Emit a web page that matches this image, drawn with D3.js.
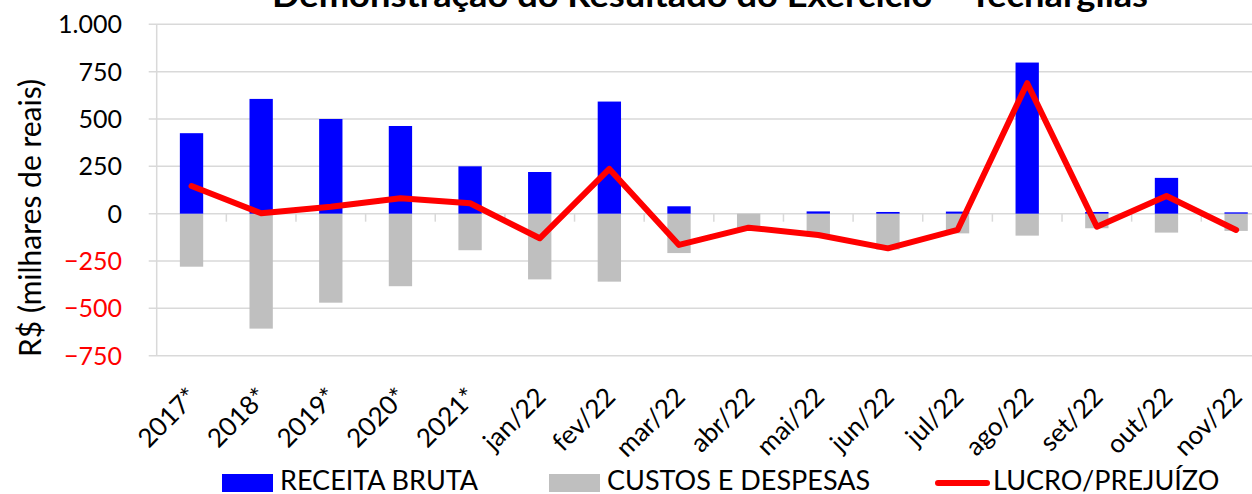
<!DOCTYPE html>
<html>
<head>
<meta charset="utf-8">
<script src="https://cdn.jsdelivr.net/npm/d3@7"></script>
<style>
  body { margin: 0; background: #fff; }
  svg { display: block; font-family: Lato, "Open Sans", sans-serif; }
</style>
</head>
<body>
<div id="chart"></div>
<script>
(function() {
  var width = 1252, height = 494;

  // data (R$ mil)
  var categories = ['2017*', '2018*', '2019*', '2020*', '2021*', 'jan/22', 'fev/22', 'mar/22',
    'abr/22', 'mai/22', 'jun/22', 'jul/22', 'ago/22', 'set/22', 'out/22', 'nov/22'];
  var receita = [425, 606, 500, 463, 250, 220, 592, 39, 0, 12, 9, 11, 798, 9, 189, 7];
  var custos = [-280, -607, -470, -383, -193, -347, -359, -208, -80, -122, -190, -104, -116, -77, -100, -91];
  var lucro = [146, 2, 37, 81, 55, -130, 236, -165, -74, -113, -183, -86, 689, -69, 93, -86];
  var yTicks = [-750, -500, -250, 0, 250, 500, 750, 1000];

  var plotLeft = 156.7;

  var svg = d3.select("#chart")
    .append("svg")
    .attr("width", width)
    .attr("height", height);

  // bands run past the right edge, the original picture is cropped there
  var x = d3.scaleBand().domain(categories).range([plotLeft, plotLeft + 16 * 69.64]);
  var y = d3.scaleLinear().domain([-750, 1000]).range([355.7, 24.3]);
  var barW = x.bandwidth() * 0.335;
  var cx = function(d) { return x(d) + x.bandwidth() / 2; };

  // gridlines + y ticks
  svg.selectAll(".grid")
    .data(yTicks)
    .enter().append("line")
    .attr("class", "grid")
    .attr("x1", plotLeft - 8)
    .attr("x2", width)
    .attr("y1", function(d) { return y(d); })
    .attr("y2", function(d) { return y(d); })
    .attr("stroke", "#d9d9d9")
    .attr("stroke-width", 1.5);

  svg.append("line")
    .attr("x1", plotLeft).attr("x2", plotLeft)
    .attr("y1", y(1000)).attr("y2", y(-750))
    .attr("stroke", "#d9d9d9")
    .attr("stroke-width", 1.5);

  svg.selectAll(".ylabel")
    .data(yTicks)
    .enter().append("text")
    .attr("class", "ylabel")
    .attr("x", 122)
    .attr("y", function(d) { return y(d); })
    .attr("dy", "0.36em")
    .attr("text-anchor", "end")
    .attr("font-size", 25)
    .attr("fill", function(d) { return d < 0 ? "#ff0000" : "#000"; })
    .text(function(d) { return d3.format(",")(d).replace(",", "."); });

  // category ticks on the zero line
  svg.selectAll(".xtick")
    .data(categories.slice(1))
    .enter().append("line")
    .attr("class", "xtick")
    .attr("x1", function(d) { return x(d); })
    .attr("x2", function(d) { return x(d); })
    .attr("y1", y(0))
    .attr("y2", y(0) + 8)
    .attr("stroke", "#d9d9d9")
    .attr("stroke-width", 1.5);

  // bars
  svg.selectAll(".custos")
    .data(categories)
    .enter().append("rect")
    .attr("class", "custos")
    .attr("x", function(d) { return cx(d) - barW / 2; })
    .attr("width", barW)
    .attr("y", y(0))
    .attr("height", function(d, i) { return y(custos[i]) - y(0); })
    .attr("fill", "#bfbfbf");

  svg.selectAll(".receita")
    .data(categories)
    .enter().append("rect")
    .attr("class", "receita")
    .attr("x", function(d) { return cx(d) - barW / 2; })
    .attr("width", barW)
    .attr("y", function(d, i) { return y(receita[i]); })
    .attr("height", function(d, i) { return y(0) - y(receita[i]); })
    .attr("fill", "#0000ff");

  var line = d3.line()
    .x(function(d, i) { return cx(categories[i]); })
    .y(function(d) { return y(d); });

  svg.append("path")
    .datum(lucro)
    .attr("d", line)
    .attr("fill", "none")
    .attr("stroke", "#ff0000")
    .attr("stroke-width", 6)
    .attr("stroke-linejoin", "round")
    .attr("stroke-linecap", "round");

  // x labels
  svg.selectAll(".xlabel")
    .data(categories)
    .enter().append("text")
    .attr("class", "xlabel")
    .attr("transform", function(d) { return "translate(" + (cx(d) + 1) + ",392) rotate(-45)"; })
    .attr("dy", "0.36em")
    .attr("text-anchor", "end")
    .attr("font-size", 26)
    .text(function(d) { return d; });

  // axis title
  svg.append("text")
    .attr("transform", "translate(41,218) rotate(-90)")
    .attr("text-anchor", "middle")
    .attr("font-size", 30)
    .text("R$ (milhares de reais)");

  // title, cut off at the top like the original
  svg.append("text")
    .attr("x", 710)
    .attr("y", 7)
    .attr("text-anchor", "middle")
    .attr("font-size", 33)
    .attr("font-weight", "bold")
    .attr("textLength", 876)
    .attr("lengthAdjust", "spacingAndGlyphs")
    .text("Demonstração do Resultado do Exercício – Tecnargilas");

  // legend
  var legend = [
    { name: "RECEITA BRUTA", color: "#0000ff", type: "rect", x: 222 },
    { name: "CUSTOS E DESPESAS", color: "#bfbfbf", type: "rect", x: 549 },
    { name: "LUCRO/PREJUÍZO", color: "#ff0000", type: "line", x: 935 }
  ];
  var lg = svg.selectAll(".legend")
    .data(legend)
    .enter().append("g")
    .attr("class", "legend")
    .attr("transform", function(d) { return "translate(" + d.x + ",483)"; });

  lg.filter(function(d) { return d.type == "rect"; })
    .append("rect")
    .attr("x", 0).attr("y", -9)
    .attr("width", 51).attr("height", 18)
    .attr("fill", function(d) { return d.color; });

  lg.filter(function(d) { return d.type == "line"; })
    .append("line")
    .attr("x1", 3).attr("x2", 52)
    .attr("stroke", function(d) { return d.color; })
    .attr("stroke-width", 6)
    .attr("stroke-linecap", "round");

  lg.append("text")
    .attr("x", 58)
    .attr("y", 6.5)
    .attr("font-size", 27)
    .text(function(d) { return d.name; });
})();
</script>
</body>
</html>
